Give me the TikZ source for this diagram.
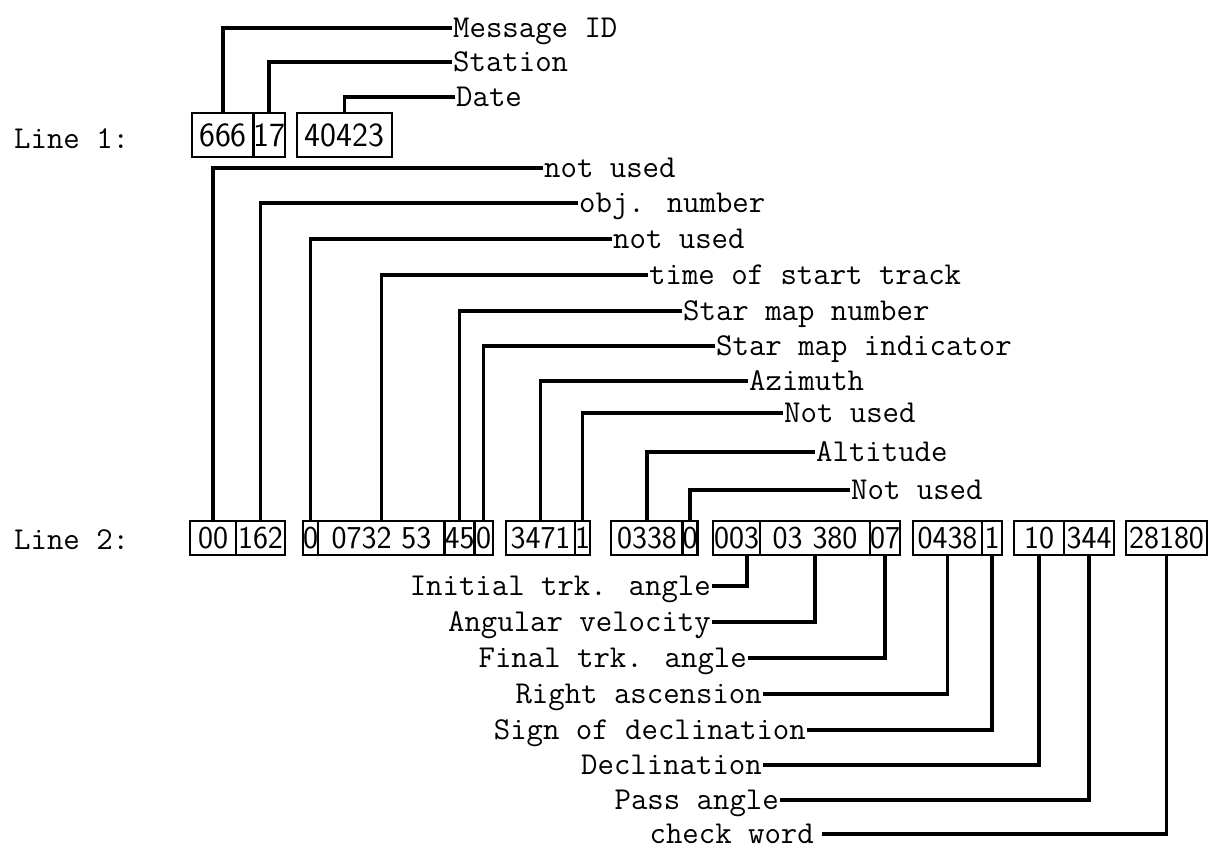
\documentclass[tikz,border=0pt]{standalone}
\usepackage{fontspec}
\begin{document}
\begin{tikzpicture}[line join=miter,
  conn/.style={line width=3.4bp},
  fld/.style={draw,line width=2.6bp,rectangle,inner sep=0pt,minimum height=34bp,font=\sffamily\fontsize{32}{32}\selectfont},
  fldtop/.style={fld,minimum height=44bp,font=\sffamily\fontsize{34}{34}\selectfont},
  lbl/.style={inner sep=1bp,text height=19bp,text depth=0pt,font=\ttfamily\addfontfeatures{FakeBold=1}\fontsize{32}{32}\selectfont},
  ]
\useasboundingbox (0bp,0bp) rectangle (1212bp,852bp);
%%
\node (lineone) at (13bp,713bp) [lbl,anchor=west] {Line 1:};
  \node (linetwo) at (13bp,312bp) [lbl,anchor=west] {Line 2:};
  \node (f666) at (223bp,717bp) [fldtop,minimum width=62bp] {666};
  \node (f17) at (269bp,717bp) [fldtop,minimum width=30bp] {17};
  \node (f40423) at (344.5bp,717bp) [fldtop,minimum width=95bp] {40423};
  \node (f00) at (213bp,314bp) [fld,minimum width=46bp] {00};
  \node (f162) at (260.5bp,314bp) [fld,minimum width=49bp] {162};
  \node (f0a) at (310.5bp,314bp) [fld,minimum width=15bp] {0};
  \node (f0732) at (381.5bp,314bp) [fld,minimum width=127bp] {0732 53};
  \node (f45) at (459.5bp,314bp) [fld,minimum width=29bp] {45};
  \node (f0b) at (483.5bp,314bp) [fld,minimum width=19bp] {0};
  \node (f3471) at (540.5bp,314bp) [fld,minimum width=69bp] {3471};
  \node (f1a) at (582.5bp,314bp) [fld,minimum width=15bp] {1};
  \node (f0338) at (647bp,314bp) [fld,minimum width=72bp] {0338};
  \node (f0c) at (690bp,314bp) [fld,minimum width=14bp] {0};
  \node (f003) at (736.5bp,314bp) [fld,minimum width=47bp] {003};
  \node (f03380) at (815bp,314bp) [fld,minimum width=110bp] {03 380};
  \node (f07) at (885bp,314bp) [fld,minimum width=30bp] {07};
  \node (f0438) at (947.5bp,314bp) [fld,minimum width=69bp] {0438};
  \node (f1b) at (992bp,314bp) [fld,minimum width=20bp] {1};
  \node (f10) at (1039bp,314bp) [fld,minimum width=50bp] {10};
  \node (f344) at (1089bp,314bp) [fld,minimum width=50bp] {344};
  \node (f28180) at (1166.5bp,314bp) [fld,minimum width=81bp] {28180};
  \node (msgid) at (452bp,824bp) [lbl,anchor=west] {Message ID};
  \node (station) at (452bp,790bp) [lbl,anchor=west] {Station};
  \node (date) at (455bp,755bp) [lbl,anchor=west] {Date};
  \node (notuseda) at (543bp,684bp) [lbl,anchor=west] {not used};
  \node (objnum) at (578bp,649bp) [lbl,anchor=west] {obj. number};
  \node (notusedb) at (612bp,613bp) [lbl,anchor=west] {not used};
  \node (tstart) at (648bp,577bp) [lbl,anchor=west] {time of start track};
  \node (smapnum) at (682bp,541bp) [lbl,anchor=west] {Star map number};
  \node (smapind) at (715bp,506bp) [lbl,anchor=west] {Star map indicator};
  \node (azim) at (748bp,471bp) [lbl,anchor=west] {Azimuth};
  \node (notusedc) at (783bp,439bp) [lbl,anchor=west] {Not used};
  \node (alti) at (815bp,400bp) [lbl,anchor=west] {Altitude};
  \node (notusedd) at (850bp,362bp) [lbl,anchor=west] {Not used};
  \node (inittrk) at (712bp,266bp) [lbl,anchor=east] {Initial trk. angle};
  \node (angvel) at (712bp,230bp) [lbl,anchor=east] {Angular velocity};
  \node (finaltrk) at (748bp,194bp) [lbl,anchor=east] {Final trk. angle};
  \node (rasc) at (763bp,158bp) [lbl,anchor=east] {Right ascension};
  \node (signdec) at (807bp,122bp) [lbl,anchor=east] {Sign of declination};
  \node (decl) at (763bp,87bp) [lbl,anchor=east] {Declination};
  \node (passang) at (780bp,52bp) [lbl,anchor=east] {Pass angle};
  \node (chkword) at (822bp,18bp) [lbl,anchor=east,inner xsep=8bp] {check word};
  \draw [conn] (f666.north) |- (msgid.west);
  \draw [conn] (f17.north) |- (station.west);
  \draw [conn] (f40423.north) |- (date.west);
  \draw [conn] (f00.north) |- (notuseda.west);
  \draw [conn] (f162.north) |- (objnum.west);
  \draw [conn] (f0a.north) |- (notusedb.west);
  \draw [conn] (f0732.north) |- (tstart.west);
  \draw [conn] (f45.north) |- (smapnum.west);
  \draw [conn] (f0b.north) |- (smapind.west);
  \draw [conn] (f3471.north) |- (azim.west);
  \draw [conn] (f1a.north) |- (notusedc.west);
  \draw [conn] (f0338.north) |- (alti.west);
  \draw [conn] (f0c.north) |- (notusedd.west);
  \draw [conn] (f003.-60) |- (inittrk.east);
  \draw [conn] (f03380.south) |- (angvel.east);
  \draw [conn] (f07.south) |- (finaltrk.east);
  \draw [conn] (f0438.south) |- (rasc.east);
  \draw [conn] (f1b.south) |- (signdec.east);
  \draw [conn] (f10.south) |- (decl.east);
  \draw [conn] (f344.south) |- (passang.east);
  \draw [conn] (f28180.south) |- (chkword.east);
%
\end{tikzpicture}
\end{document}
